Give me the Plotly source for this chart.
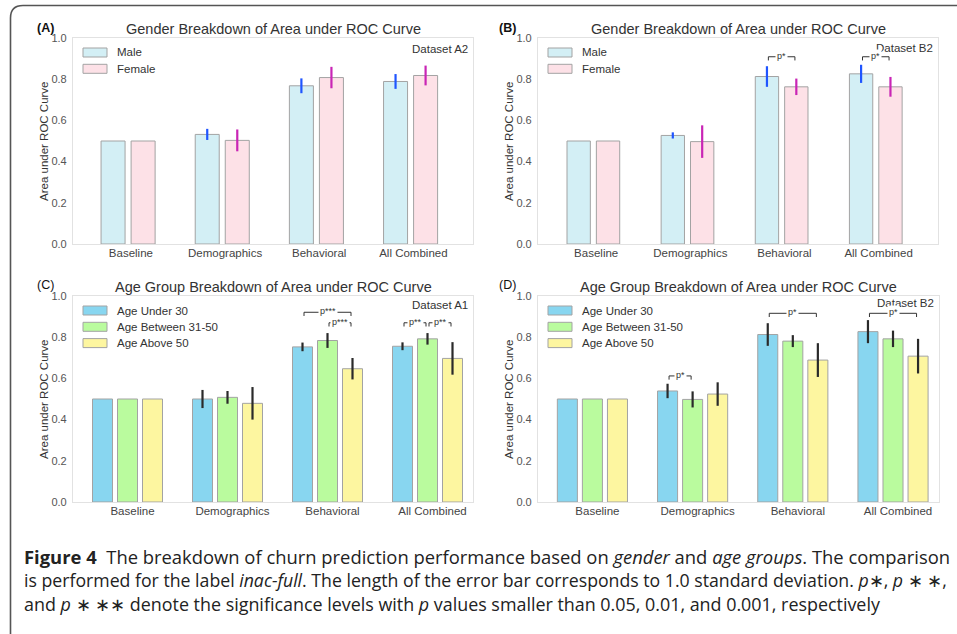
import plotly.graph_objects as go

W, H = 957, 634

categories = ["Baseline", "Demographics", "Behavioral", "All Combined"]
y_ticks = [0.0, 0.2, 0.4, 0.6, 0.8, 1.0]

# Panel A (Dataset A2) - gender
a_male = [0.50, 0.532, 0.768, 0.789]
a_male_err = [0.0, 0.027, 0.036, 0.036]
a_female = [0.50, 0.503, 0.808, 0.818]
a_female_err = [0.0, 0.053, 0.052, 0.048]

# Panel B (Dataset B2) - gender
b_male = [0.50, 0.527, 0.813, 0.826]
b_male_err = [0.0, 0.015, 0.050, 0.044]
b_female = [0.50, 0.497, 0.763, 0.763]
b_female_err = [0.0, 0.079, 0.040, 0.048]

# Panel C (Dataset A1) - age
c_under30 = [0.50, 0.500, 0.753, 0.756]
c_under30_err = [0.0, 0.044, 0.021, 0.019]
c_31_50 = [0.50, 0.508, 0.784, 0.792]
c_31_50_err = [0.0, 0.031, 0.036, 0.028]
c_above50 = [0.50, 0.479, 0.647, 0.697]
c_above50_err = [0.0, 0.079, 0.052, 0.079]

# Panel D (Dataset B2) - age
d_under30 = [0.50, 0.539, 0.813, 0.827]
d_under30_err = [0.0, 0.035, 0.055, 0.056]
d_31_50 = [0.50, 0.498, 0.781, 0.792]
d_31_50_err = [0.0, 0.039, 0.029, 0.040]
d_above50 = [0.50, 0.524, 0.689, 0.708]
d_above50_err = [0.0, 0.057, 0.082, 0.084]

gender_names = ["Male", "Female"]
age_names = ["Age Under 30", "Age Between 31-50", "Age Above 50"]

# significance brackets: (category index, series from, series to, level, label)
b_sig = [(2, 0, 1, 0.909, "p*"), (3, 0, 1, 0.909, "p*")]
c_sig = [(2, 0, 2, 0.921, "p***"), (2, 1, 2, 0.870, "p***"),
         (3, 0, 1, 0.870, "p**"), (3, 1, 2, 0.870, "p**")]
d_sig = [(1, 0, 1, 0.612, "p*"), (2, 0, 2, 0.916, "p*"), (3, 0, 2, 0.916, "p*")]

# ---------------- styling ----------------
FONT = "Liberation Sans, Arial, sans-serif"
gender_fill = ["#d3eff5", "#fde1e7"]
gender_err = ["#1f55ff", "#c925b5"]
age_fill = ["#88d6f0", "#bafb9e", "#fdf6a0"]
age_err = ["#2a2a2a", "#2a2a2a", "#2a2a2a"]
EDGE = "#a3a3a3"

def px_x(p):
    return p / W

def px_y(p):
    return 1 - p / H

panels = [
    dict(key="", dom=(73, 473, 38, 244), rng=(-0.585, 3.663), w=0.255, g=0.064, tshift=0.03,
         series=[a_male, a_female], errs=[a_male_err, a_female_err], names=gender_names,
         fills=gender_fill, ecol=gender_err, sig=[],
         title="Gender Breakdown of Area under ROC Curve", label="<b>(A)</b>",
         dataset="Dataset A2", dy=-11, lab_xy=(35, 28)),
    dict(key="2", dom=(538, 938, 38, 244), rng=(-0.588, 3.661), w=0.248, g=0.064, tshift=0.03,
         series=[b_male, b_female], errs=[b_male_err, b_female_err], names=gender_names,
         fills=gender_fill, ecol=gender_err, sig=b_sig,
         title="Gender Breakdown of Area under ROC Curve", label="<b>(B)</b>",
         dataset="Dataset B2", dy=-10, lab_xy=(497, 28)),
    dict(key="3", dom=(73, 473, 296, 502), rng=(-0.545, 3.455), w=0.2, g=0.05, tshift=0.05,
         series=[c_under30, c_31_50, c_above50], errs=[c_under30_err, c_31_50_err, c_above50_err],
         names=age_names, fills=age_fill, ecol=age_err, sig=c_sig,
         title="Age Group Breakdown of Area under ROC Curve", label="(C)",
         dataset="Dataset A1", dy=-9, lab_xy=(35, 285)),
    dict(key="4", dom=(538, 939, 296, 502), rng=(-0.543, 3.459), w=0.2, g=0.05, tshift=0.05,
         series=[d_under30, d_31_50, d_above50], errs=[d_under30_err, d_31_50_err, d_above50_err],
         names=age_names, fills=age_fill, ecol=age_err, sig=d_sig,
         title="Age Group Breakdown of Area under ROC Curve", label="(D)",
         dataset="Dataset B2", dy=-7, lab_xy=(497, 285)),
]

fig = go.Figure()
shapes = []
annotations = []
layout_axes = {}

for p in panels:
    k = p["key"]
    xa, ya = "x" + k, "y" + k
    x0, x1, y0, y1 = p["dom"]
    n = len(p["series"])
    idx = list(range(len(categories)))
    offs = [(j - (n - 1) / 2) * (p["w"] + p["g"]) for j in range(n)]
    for j, (vals, errs) in enumerate(zip(p["series"], p["errs"])):
        fig.add_trace(go.Bar(
            x=[i + offs[j] for i in idx], y=vals, width=p["w"],
            name=p["names"][j], showlegend=False, xaxis=xa, yaxis=ya,
            marker=dict(color=p["fills"][j], line=dict(color=EDGE, width=1)),
            error_y=dict(type="data", array=errs, visible=True, thickness=2.2,
                         width=0, color=p["ecol"][j]),
            hoverinfo="skip",
        ))
    layout_axes["xaxis" + k] = dict(
        domain=[px_x(x0), px_x(x1)], anchor=ya, range=list(p["rng"]),
        tickmode="array", tickvals=[i + p["tshift"] for i in idx], ticktext=categories,
        showgrid=False, zeroline=False, showline=True, mirror=True, linecolor="#e2e2e2",
        linewidth=1.2, ticks="", ticklabelstandoff=-2,
        tickfont=dict(family=FONT, size=11.5, color="#444"), fixedrange=True)
    layout_axes["yaxis" + k] = dict(
        domain=[px_y(y1), px_y(y0)], anchor=xa, range=[0, 1.0],
        tickmode="array", tickvals=y_ticks, ticktext=["%.1f" % v for v in y_ticks],
        showgrid=False, zeroline=False, showline=True, mirror=True, linecolor="#e2e2e2",
        linewidth=1.2, ticks="", ticklabelstandoff=3,
        tickfont=dict(family=FONT, size=11, color="#555"), fixedrange=True)

    xd, yd = xa + " domain", ya + " domain"
    # title
    annotations.append(dict(text=p["title"], xref=xd, yref=yd, x=0.5, y=1, yshift=9,
                            xanchor="center", yanchor="middle", showarrow=False,
                            font=dict(family=FONT, size=14.5, color="#333")))
    # y axis title
    annotations.append(dict(text="Area under ROC Curve", xref=xd, yref=yd, x=0, xshift=-29,
                            y=0.5, textangle=-90, xanchor="center", yanchor="middle",
                            showarrow=False, font=dict(family=FONT, size=11.5, color="#333")))
    # dataset tag
    annotations.append(dict(text=p["dataset"], xref=xd, yref=yd, x=1, xshift=-3, y=1,
                            yshift=p["dy"], xanchor="right", yanchor="middle", showarrow=False,
                            font=dict(family=FONT, size=11.5, color="#333")))
    # panel label
    lx, ly = p["lab_xy"]
    annotations.append(dict(text=p["label"], xref="paper", yref="paper", x=px_x(lx), y=px_y(ly),
                            xanchor="left", yanchor="middle", showarrow=False,
                            font=dict(family=FONT, size=12.5, color="#111")))
    # manual legend
    for j, nm in enumerate(p["names"]):
        cy = 14.5 + j * 16.3
        shapes.append(dict(type="rect", xref=xd, yref=yd, xsizemode="pixel", ysizemode="pixel",
                           xanchor=0, yanchor=1, x0=10, x1=34, y0=-(cy - 4.5), y1=-(cy + 4.5),
                           fillcolor=p["fills"][j], line=dict(color=EDGE, width=1)))
        annotations.append(dict(text=nm, xref=xd, yref=yd, x=0, xshift=42, y=1, yshift=-cy,
                                xanchor="left", yanchor="middle", showarrow=False,
                                font=dict(family=FONT, size=11.5, color="#333")))
    # significance brackets
    tick = 0.018
    for (ci, s1, s2, lvl, txt) in p["sig"]:
        xa1 = ci + offs[s1] + 0.015
        xa2 = ci + offs[s2] - 0.015
        shapes.append(dict(type="path", xref=xa, yref=ya,
                           path=f"M{xa1},{lvl - tick} L{xa1},{lvl} L{xa2},{lvl} L{xa2},{lvl - tick}",
                           line=dict(color="#333", width=1)))
        annotations.append(dict(text=txt, xref=xa, yref=ya, x=(xa1 + xa2) / 2, y=lvl, yshift=1,
                                xanchor="center", yanchor="middle", showarrow=False,
                                bgcolor="white", borderpad=1,
                                font=dict(family=FONT, size=9, color="#333")))

# figure frame (rounded box)
def P(xp, yp):
    return f"{px_x(xp)},{px_y(yp)}"

frame = f"M{P(10.5, 660)} L{P(10.5, 18)} Q{P(10.5, 5.5)} {P(23, 5.5)} L{P(1000, 5.5)}"
shapes.append(dict(type="path", xref="paper", yref="paper", path=frame,
                   line=dict(color="#555", width=1.6)))

# caption (justified in the reference: line sizes tuned so lines 1-2 share a right edge)
CAP_FONT = "Open Sans, Lato, sans-serif"
caption_lines = [
    "<b>Figure 4</b>  The breakdown of churn prediction performance based on <i>gender</i> and <i>age groups</i>. The comparison",
    "is performed for the label <i>inac-full</i>. The length of the error bar corresponds to 1.0 standard deviation. <i>p</i>∗, <i>p</i> ∗ ∗,",
    "and <i>p</i> ∗ ∗∗ denote the significance levels with <i>p</i> values smaller than 0.05, 0.01, and 0.001, respectively",
]
caption_sizes = [18.4, 17.7, 17.9]
for li, line in enumerate(caption_lines):
    annotations.append(dict(text=line, xref="paper", yref="paper", x=px_x(22), y=px_y(556 + 24 * li),
                            xanchor="left", yanchor="middle", showarrow=False,
                            font=dict(family=CAP_FONT, size=caption_sizes[li], color="#222")))

fig.update_layout(
    width=W, height=H, margin=dict(l=0, r=0, t=0, b=0, pad=0, autoexpand=False),
    paper_bgcolor="white", plot_bgcolor="white", barmode="overlay",
    shapes=shapes, annotations=annotations, showlegend=False,
    **layout_axes,
)

fig.write_html("out.html", config={"displayModeBar": False},
               post_script="document.body.style.margin='0';document.body.style.overflow='hidden';")
